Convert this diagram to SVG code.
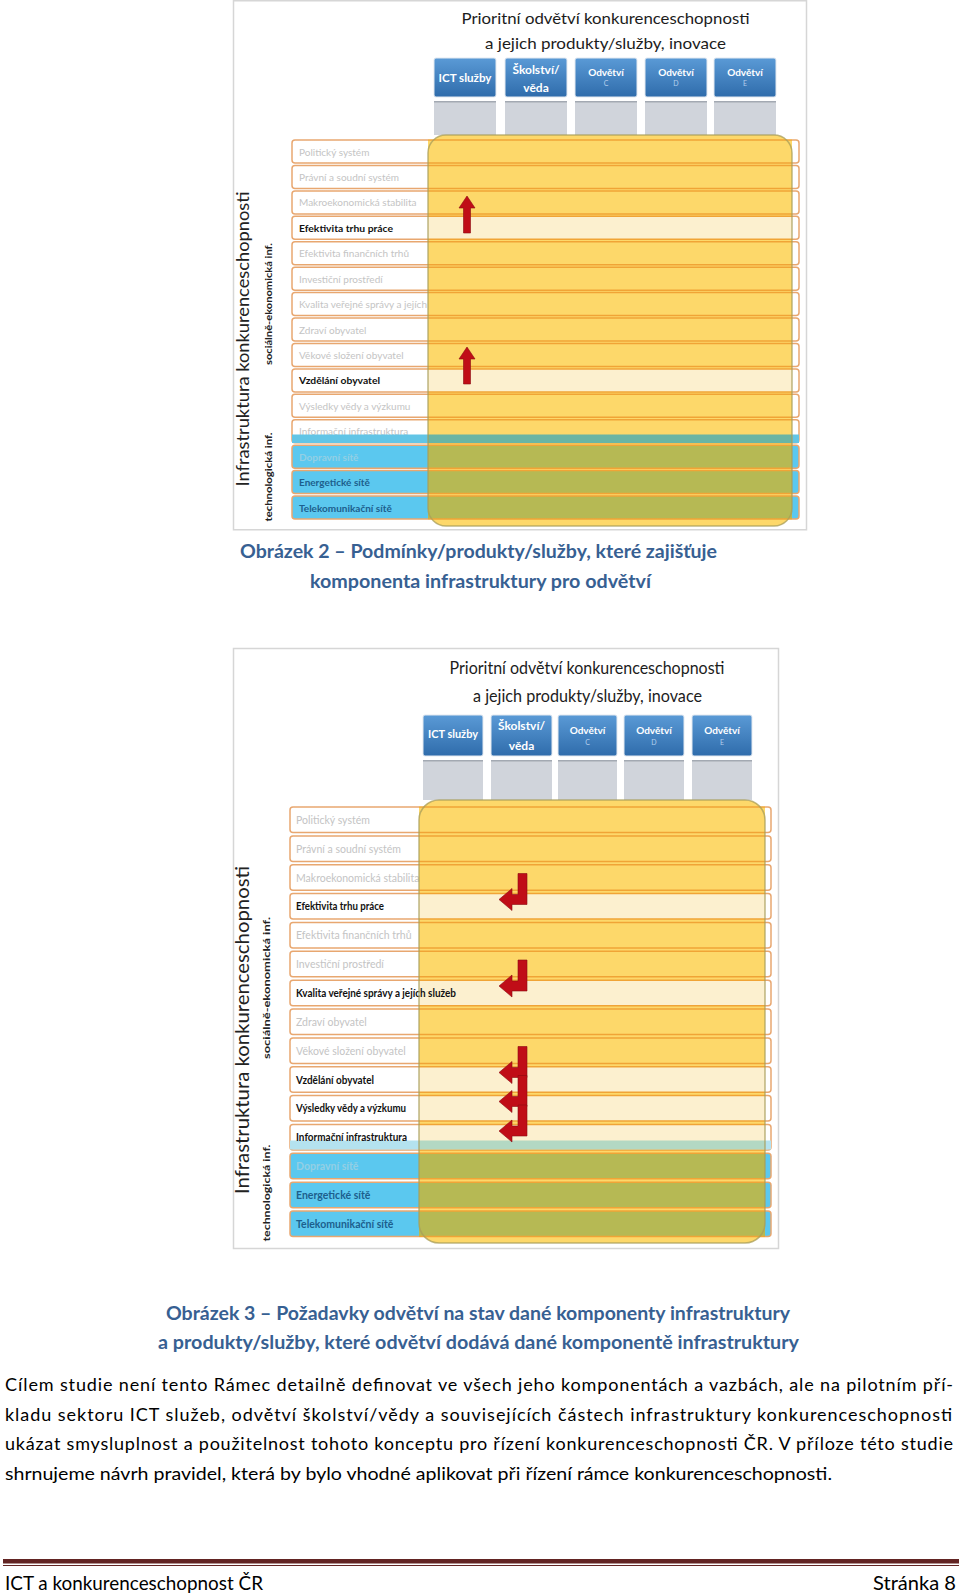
<svg xmlns="http://www.w3.org/2000/svg" width="960" height="1594" viewBox="0 0 960 1594">
<defs>
<style>
text{font-family:Lato,'Liberation Sans',sans-serif}
.frame{fill:#fff;stroke:#d6d6d6;stroke-width:1.5}
.ttl{font-size:16px;fill:#1c1c1c;text-anchor:middle}
.hb{fill:url(#gHead);stroke:#e3e9f0;stroke-width:1}
.ht{font-size:12px;font-weight:bold;fill:#fff;text-anchor:middle}
.ho{font-size:10px}
.hs{font-size:7px;font-weight:normal;fill:#b5d0ee;text-anchor:middle}
.col{fill:#d0d4db}
.colt{fill:#a3a9b2}
.yel{fill:#fdd86a}
.yedge{fill:none;stroke:#a89d5a;stroke-width:1.5;stroke-opacity:0.75}
.rt{font-size:10px;fill:#c4c4c4}
.rt2{font-size:10.5px;fill:#c4c4c4}
.rk{font-weight:bold;fill:#111}
.rb1{fill:#93cfe4;font-weight:bold}
.rb2{font-weight:bold;fill:#1d5f8d}
.arr{fill:#c00d17;stroke:#8a0a10;stroke-width:0.6}
.lb{font-size:17px;fill:#222;text-anchor:middle}
.ls{font-size:9.5px;font-weight:bold;fill:#222;text-anchor:middle}
.cap{font-size:18px;font-weight:bold;fill:#376092;text-anchor:middle}
.p{font-size:18px;fill:#000}
.ft{font-size:20px;fill:#000}
.fl{fill:#622423}
</style>
<linearGradient id="gHead" x1="0" y1="0" x2="0" y2="1">
<stop offset="0" stop-color="#5a9ad6"/><stop offset="1" stop-color="#2f6cab"/>
</linearGradient>
<linearGradient id="gW1" gradientUnits="userSpaceOnUse" x1="292" y1="0" x2="799" y2="0">
<stop offset="0.268" stop-color="#fff"/><stop offset="0.268" stop-color="#fdd86a"/><stop offset="0.986" stop-color="#fdd86a"/><stop offset="0.986" stop-color="#fff"/>
</linearGradient>
<linearGradient id="gH1" gradientUnits="userSpaceOnUse" x1="292" y1="0" x2="799" y2="0">
<stop offset="0.268" stop-color="#fff"/><stop offset="0.268" stop-color="#fcf0cf"/><stop offset="0.986" stop-color="#fcf0cf"/><stop offset="0.986" stop-color="#fff"/>
</linearGradient>
<linearGradient id="gB1" gradientUnits="userSpaceOnUse" x1="292" y1="0" x2="799" y2="0">
<stop offset="0.268" stop-color="#5bc8ef"/><stop offset="0.268" stop-color="#b6b954"/><stop offset="0.986" stop-color="#b6b954"/><stop offset="0.986" stop-color="#5bc8ef"/>
</linearGradient>
<linearGradient id="gS1" gradientUnits="userSpaceOnUse" x1="292" y1="0" x2="799" y2="0">
<stop offset="0.268" stop-color="#e8a770"/><stop offset="0.268" stop-color="#f0a436"/><stop offset="0.986" stop-color="#f0a436"/><stop offset="0.986" stop-color="#e8a770"/>
</linearGradient>
<linearGradient id="gT1" gradientUnits="userSpaceOnUse" x1="292" y1="0" x2="799" y2="0">
<stop offset="0.268" stop-color="#62c5e6"/><stop offset="0.268" stop-color="#6bb5a3"/><stop offset="0.986" stop-color="#6bb5a3"/><stop offset="0.986" stop-color="#62c5e6"/>
</linearGradient>
<linearGradient id="gW2" gradientUnits="userSpaceOnUse" x1="290" y1="0" x2="771" y2="0">
<stop offset="0.268" stop-color="#fff"/><stop offset="0.268" stop-color="#fdd86a"/><stop offset="0.9875" stop-color="#fdd86a"/><stop offset="0.9875" stop-color="#fff"/>
</linearGradient>
<linearGradient id="gH2" gradientUnits="userSpaceOnUse" x1="290" y1="0" x2="771" y2="0">
<stop offset="0.268" stop-color="#fff"/><stop offset="0.268" stop-color="#fcf0cf"/><stop offset="0.9875" stop-color="#fcf0cf"/><stop offset="0.9875" stop-color="#fff"/>
</linearGradient>
<linearGradient id="gB2" gradientUnits="userSpaceOnUse" x1="290" y1="0" x2="771" y2="0">
<stop offset="0.268" stop-color="#5bc8ef"/><stop offset="0.268" stop-color="#b6b954"/><stop offset="0.9875" stop-color="#b6b954"/><stop offset="0.9875" stop-color="#5bc8ef"/>
</linearGradient>
<linearGradient id="gS2" gradientUnits="userSpaceOnUse" x1="290" y1="0" x2="771" y2="0">
<stop offset="0.268" stop-color="#e8a770"/><stop offset="0.268" stop-color="#f0a436"/><stop offset="0.9875" stop-color="#f0a436"/><stop offset="0.9875" stop-color="#e8a770"/>
</linearGradient>
<linearGradient id="gT2" gradientUnits="userSpaceOnUse" x1="290" y1="0" x2="771" y2="0">
<stop offset="0.268" stop-color="#b4e2ef"/><stop offset="0.268" stop-color="#b3d8c3"/><stop offset="0.9875" stop-color="#b3d8c3"/><stop offset="0.9875" stop-color="#b4e2ef"/>
</linearGradient>
<clipPath id="clipK"><rect x="0" y="0" width="428" height="600"/></clipPath>
<path id="upArr" d="M0,0 L8,12 H3.5 V37 H-3.5 V12 H-8 Z"/>
<path id="bentArr" d="M19,-26 H28 V5 H13 V11 L0,0 L13,-11 V-5 H19 Z"/>
</defs>

<!-- ============ FIGURE 1 ============ -->
<g id="fig1">
<rect class="frame" x="233.5" y="0.75" width="573" height="529"/>
<g id="fig1-title">
<text class="ttl" x="605.5" y="24" textLength="288" lengthAdjust="spacingAndGlyphs">Prioritní odvětví konkurenceschopnosti</text>
<text class="ttl" x="605.5" y="48.5" textLength="241" lengthAdjust="spacingAndGlyphs">a jejich produkty/služby, inovace</text>
</g>
<g id="fig1-cols">
<rect class="col" x="434" y="101" width="62" height="34"/><rect class="colt" x="434" y="101" width="62" height="1.5"/>
<rect class="col" x="505" y="101" width="62" height="34"/><rect class="colt" x="505" y="101" width="62" height="1.5"/>
<rect class="col" x="575" y="101" width="62" height="34"/><rect class="colt" x="575" y="101" width="62" height="1.5"/>
<rect class="col" x="645" y="101" width="62" height="34"/><rect class="colt" x="645" y="101" width="62" height="1.5"/>
<rect class="col" x="714" y="101" width="62" height="34"/><rect class="colt" x="714" y="101" width="62" height="1.5"/>
</g>
<g id="fig1-h-ict"><rect class="hb" x="434" y="58" width="62" height="39" rx="2"/><text class="ht" x="465" y="81.5" textLength="53" lengthAdjust="spacingAndGlyphs">ICT služby</text></g>
<g id="fig1-h-skol"><rect class="hb" x="505" y="58" width="62" height="39" rx="2"/><text class="ht" x="536" y="74">Školství/</text><text class="ht" x="536" y="91.5">věda</text></g>
<g id="fig1-h-c"><rect class="hb" x="575" y="58" width="62" height="39" rx="2"/><text class="ht ho" x="606" y="75.5">Odvětví</text><text class="hs" x="606" y="86">C</text></g>
<g id="fig1-h-d"><rect class="hb" x="645" y="58" width="62" height="39" rx="2"/><text class="ht ho" x="676" y="75.5">Odvětví</text><text class="hs" x="676" y="86">D</text></g>
<g id="fig1-h-e"><rect class="hb" x="714" y="58" width="62" height="39" rx="2"/><text class="ht ho" x="745" y="75.5">Odvětví</text><text class="hs" x="745" y="86">E</text></g>

<g id="fig1-labels">
<text class="lb" transform="translate(243,339) rotate(-90)" y="6" textLength="295" lengthAdjust="spacingAndGlyphs">Infrastruktura konkurenceschopnosti</text>
<text class="ls" transform="translate(268,304) rotate(-90)" y="3.5" textLength="122" lengthAdjust="spacingAndGlyphs">sociálně-ekonomická inf.</text>
<text class="ls" transform="translate(268,477) rotate(-90)" y="3.5" textLength="89" lengthAdjust="spacingAndGlyphs">technologická inf.</text>
</g>

<rect id="fig1-block" class="yel" x="428" y="135" width="364" height="391" rx="18"/>

<g id="fig1-rows" stroke="url(#gS1)" stroke-width="1.5">
<g id="f1-r01"><rect x="292" y="140" width="507" height="23" rx="3" fill="url(#gW1)"/><text class="rt" x="299" y="155.5" stroke="none">Politický systém</text></g>
<g id="f1-r02"><rect x="292" y="165.4" width="507" height="23" rx="3" fill="url(#gW1)"/><text class="rt" x="299" y="180.9" stroke="none">Právní a soudní systém</text></g>
<g id="f1-r03"><rect x="292" y="190.9" width="507" height="23" rx="3" fill="url(#gW1)"/><text class="rt" x="299" y="206.4" stroke="none">Makroekonomická stabilita</text></g>
<g id="f1-r04"><rect x="292" y="216.3" width="507" height="23" rx="3" fill="url(#gH1)"/><text class="rt rk" x="299" y="231.8" stroke="none" textLength="94" lengthAdjust="spacingAndGlyphs">Efektivita trhu práce</text></g>
<g id="f1-r05"><rect x="292" y="241.7" width="507" height="23" rx="3" fill="url(#gW1)"/><text class="rt" x="299" y="257.2" stroke="none">Efektivita finančních trhů</text></g>
<g id="f1-r06"><rect x="292" y="267.2" width="507" height="23" rx="3" fill="url(#gW1)"/><text class="rt" x="299" y="282.7" stroke="none">Investiční prostředí</text></g>
<g id="f1-r07"><rect x="292" y="292.6" width="507" height="23" rx="3" fill="url(#gW1)"/><text class="rt" x="299" y="308.1" stroke="none" clip-path="url(#clipK)">Kvalita veřejné správy a jejích služeb</text></g>
<g id="f1-r08"><rect x="292" y="318" width="507" height="23" rx="3" fill="url(#gW1)"/><text class="rt" x="299" y="333.5" stroke="none">Zdraví obyvatel</text></g>
<g id="f1-r09"><rect x="292" y="343.4" width="507" height="23" rx="3" fill="url(#gW1)"/><text class="rt" x="299" y="358.9" stroke="none">Věkové složení obyvatel</text></g>
<g id="f1-r10"><rect x="292" y="368.9" width="507" height="23" rx="3" fill="url(#gH1)"/><text class="rt rk" x="299" y="384.4" stroke="none" textLength="81" lengthAdjust="spacingAndGlyphs">Vzdělání obyvatel</text></g>
<g id="f1-r11"><rect x="292" y="394.3" width="507" height="23" rx="3" fill="url(#gW1)"/><text class="rt" x="299" y="409.8" stroke="none">Výsledky vědy a výzkumu</text></g>
<g id="f1-r12"><rect x="292" y="419.7" width="507" height="23" rx="3" fill="url(#gW1)"/><text class="rt" x="299" y="435.2" stroke="none">Informační infrastruktura</text><rect x="292" y="434.5" width="507" height="8.5" fill="url(#gT1)" stroke="none"/></g>
<g id="f1-r13"><rect x="292" y="445.2" width="507" height="23" rx="3" fill="url(#gB1)"/><text class="rt rb1" x="299" y="460.7" stroke="none">Dopravní sítě</text></g>
<g id="f1-r14"><rect x="292" y="470.6" width="507" height="23" rx="3" fill="url(#gB1)"/><text class="rt rb2" x="299" y="486.1" stroke="none">Energetické sítě</text></g>
<g id="f1-r15"><rect x="292" y="496" width="507" height="23" rx="3" fill="url(#gB1)"/><text class="rt rb2" x="299" y="511.5" stroke="none">Telekomunikační sítě</text></g>
</g>
<rect class="yedge" x="428" y="135" width="364" height="391" rx="18"/>
<g id="fig1-connectors">
<use href="#upArr" x="467" y="196" class="arr"/>
<use href="#upArr" x="467" y="347" class="arr"/>
</g>
</g>

<g id="caption1">
<text class="cap" x="478.5" y="558" textLength="477" lengthAdjust="spacingAndGlyphs">Obrázek 2 – Podmínky/produkty/služby, které zajišťuje</text>
<text class="cap" x="480.5" y="588" textLength="341" lengthAdjust="spacingAndGlyphs">komponenta infrastruktury pro odvětví</text>
</g>

<!-- ============ FIGURE 2 ============ -->
<g id="fig2">
<rect class="frame" x="233.5" y="648.5" width="545" height="600"/>
<g id="fig2-title">
<text class="ttl" x="587" y="674" style="font-size:18px" textLength="275" lengthAdjust="spacingAndGlyphs">Prioritní odvětví konkurenceschopnosti</text>
<text class="ttl" x="587.5" y="702" style="font-size:18px" textLength="229" lengthAdjust="spacingAndGlyphs">a jejich produkty/služby, inovace</text>
</g>
<g id="fig2-cols">
<rect class="col" x="423" y="760" width="60" height="40"/><rect class="colt" x="423" y="760" width="60" height="1.5"/>
<rect class="col" x="491" y="760" width="61" height="40"/><rect class="colt" x="491" y="760" width="61" height="1.5"/>
<rect class="col" x="558" y="760" width="59" height="40"/><rect class="colt" x="558" y="760" width="59" height="1.5"/>
<rect class="col" x="624" y="760" width="60" height="40"/><rect class="colt" x="624" y="760" width="60" height="1.5"/>
<rect class="col" x="692" y="760" width="60" height="40"/><rect class="colt" x="692" y="760" width="60" height="1.5"/>
</g>
<g id="fig2-h-ict"><rect class="hb" x="423" y="715" width="60" height="41" rx="2"/><text class="ht" x="453" y="738" textLength="50" lengthAdjust="spacingAndGlyphs">ICT služby</text></g>
<g id="fig2-h-skol"><rect class="hb" x="491" y="715" width="61" height="41" rx="2"/><text class="ht" x="521.5" y="730">Školství/</text><text class="ht" x="521.5" y="750">věda</text></g>
<g id="fig2-h-c"><rect class="hb" x="558" y="715" width="59" height="41" rx="2"/><text class="ht ho" x="587.5" y="734">Odvětví</text><text class="hs" x="587.5" y="745">C</text></g>
<g id="fig2-h-d"><rect class="hb" x="624" y="715" width="60" height="41" rx="2"/><text class="ht ho" x="654" y="734">Odvětví</text><text class="hs" x="654" y="745">D</text></g>
<g id="fig2-h-e"><rect class="hb" x="692" y="715" width="60" height="41" rx="2"/><text class="ht ho" x="722" y="734">Odvětví</text><text class="hs" x="722" y="745">E</text></g>

<g id="fig2-labels">
<text class="lb" transform="translate(242,1030) rotate(-90)" style="font-size:19px" y="6.5" textLength="328" lengthAdjust="spacingAndGlyphs">Infrastruktura konkurenceschopnosti</text>
<text class="ls" transform="translate(266,988) rotate(-90)" y="3.5" textLength="142" lengthAdjust="spacingAndGlyphs">sociálně-ekonomická inf.</text>
<text class="ls" transform="translate(266,1193) rotate(-90)" y="3.5" textLength="97" lengthAdjust="spacingAndGlyphs">technologická inf.</text>
</g>

<rect id="fig2-block" class="yel" x="419" y="800" width="346" height="443" rx="20"/>

<g id="fig2-rows" stroke="url(#gS2)" stroke-width="1.5">
<g id="f2-r01"><rect x="290" y="807" width="481" height="25.5" rx="3" fill="url(#gW2)"/><text class="rt2" x="296" y="823.8" stroke="none">Politický systém</text></g>
<g id="f2-r02"><rect x="290" y="835.9" width="481" height="25.5" rx="3" fill="url(#gW2)"/><text class="rt2" x="296" y="852.7" stroke="none">Právní a soudní systém</text></g>
<g id="f2-r03"><rect x="290" y="864.7" width="481" height="25.5" rx="3" fill="url(#gW2)"/><text class="rt2" x="296" y="881.5" stroke="none">Makroekonomická stabilita</text></g>
<g id="f2-r04"><rect x="290" y="893.6" width="481" height="25.5" rx="3" fill="url(#gH2)"/><text class="rt2 rk" x="296" y="910.4" stroke="none" textLength="88" lengthAdjust="spacingAndGlyphs">Efektivita trhu práce</text></g>
<g id="f2-r05"><rect x="290" y="922.4" width="481" height="25.5" rx="3" fill="url(#gW2)"/><text class="rt2" x="296" y="939.2" stroke="none">Efektivita finančních trhů</text></g>
<g id="f2-r06"><rect x="290" y="951.3" width="481" height="25.5" rx="3" fill="url(#gW2)"/><text class="rt2" x="296" y="968.1" stroke="none">Investiční prostředí</text></g>
<g id="f2-r07"><rect x="290" y="980.2" width="481" height="25.5" rx="3" fill="url(#gH2)"/><text class="rt2 rk" x="296" y="997" stroke="none" textLength="160" lengthAdjust="spacingAndGlyphs">Kvalita veřejné správy a jejích služeb</text></g>
<g id="f2-r08"><rect x="290" y="1009" width="481" height="25.5" rx="3" fill="url(#gW2)"/><text class="rt2" x="296" y="1025.8" stroke="none">Zdraví obyvatel</text></g>
<g id="f2-r09"><rect x="290" y="1037.9" width="481" height="25.5" rx="3" fill="url(#gW2)"/><text class="rt2" x="296" y="1054.7" stroke="none">Věkové složení obyvatel</text></g>
<g id="f2-r10"><rect x="290" y="1066.7" width="481" height="25.5" rx="3" fill="url(#gH2)"/><text class="rt2 rk" x="296" y="1083.5" stroke="none" textLength="78" lengthAdjust="spacingAndGlyphs">Vzdělání obyvatel</text></g>
<g id="f2-r11"><rect x="290" y="1095.6" width="481" height="25.5" rx="3" fill="url(#gH2)"/><text class="rt2 rk" x="296" y="1112.4" stroke="none" textLength="110" lengthAdjust="spacingAndGlyphs">Výsledky vědy a výzkumu</text></g>
<g id="f2-r12"><rect x="290" y="1124.5" width="481" height="25.5" rx="3" fill="url(#gH2)"/><rect x="290" y="1140.5" width="481" height="9" fill="url(#gT2)" stroke="none"/><text class="rt2 rk" x="296" y="1141.3" stroke="none" textLength="111" lengthAdjust="spacingAndGlyphs">Informační infrastruktura</text></g>
<g id="f2-r13"><rect x="290" y="1153.3" width="481" height="25.5" rx="3" fill="url(#gB2)"/><text class="rt2 rb1" x="296" y="1170.1" stroke="none">Dopravní sítě</text></g>
<g id="f2-r14"><rect x="290" y="1182.2" width="481" height="25.5" rx="3" fill="url(#gB2)"/><text class="rt2 rb2" x="296" y="1199" stroke="none">Energetické sítě</text></g>
<g id="f2-r15"><rect x="290" y="1211" width="481" height="25.5" rx="3" fill="url(#gB2)"/><text class="rt2 rb2" x="296" y="1227.8" stroke="none">Telekomunikační sítě</text></g>
</g>
<rect class="yedge" x="419" y="800" width="346" height="443" rx="20"/>
<g id="fig2-connectors">
<use href="#bentArr" x="499" y="899.5" class="arr"/>
<use href="#bentArr" x="499" y="986" class="arr"/>
<use href="#bentArr" x="499" y="1072.5" class="arr"/>
<use href="#bentArr" x="499" y="1101.5" class="arr"/>
<use href="#bentArr" x="499" y="1131" class="arr"/>
</g>
</g>

<g id="caption2">
<text class="cap" x="478" y="1320" textLength="624" lengthAdjust="spacingAndGlyphs">Obrázek 3 – Požadavky odvětví na stav dané komponenty infrastruktury</text>
<text class="cap" x="478.5" y="1349" textLength="641" lengthAdjust="spacingAndGlyphs">a produkty/služby, které odvětví dodává dané komponentě infrastruktury</text>
</g>

<g id="paragraph">
<text class="p" x="5" y="1391" textLength="948" lengthAdjust="spacing">Cílem studie není tento Rámec detailně definovat ve všech jeho komponentách a vazbách, ale na pilotním pří-</text>
<text class="p" x="5" y="1420.5" textLength="947" lengthAdjust="spacing">kladu sektoru ICT služeb, odvětví školství/vědy a souvisejících částech infrastruktury konkurenceschopnosti</text>
<text class="p" x="5" y="1450" textLength="948" lengthAdjust="spacing">ukázat smysluplnost a použitelnost tohoto konceptu pro řízení konkurenceschopnosti ČR. V příloze této studie</text>
<text class="p" x="5" y="1479.5" textLength="827" lengthAdjust="spacingAndGlyphs">shrnujeme návrh pravidel, která by bylo vhodné aplikovat při řízení rámce konkurenceschopnosti.</text>
</g>

<g id="footer">
<rect class="fl" x="3" y="1559" width="956" height="4.5"/>
<rect class="fl" x="3" y="1565" width="956" height="1"/>
<text class="ft" x="5" y="1590" textLength="258" lengthAdjust="spacingAndGlyphs">ICT a konkurenceschopnost ČR</text>
<text class="ft" x="956" y="1590" text-anchor="end" textLength="83" lengthAdjust="spacingAndGlyphs">Stránka 8</text>
</g>
</svg>
